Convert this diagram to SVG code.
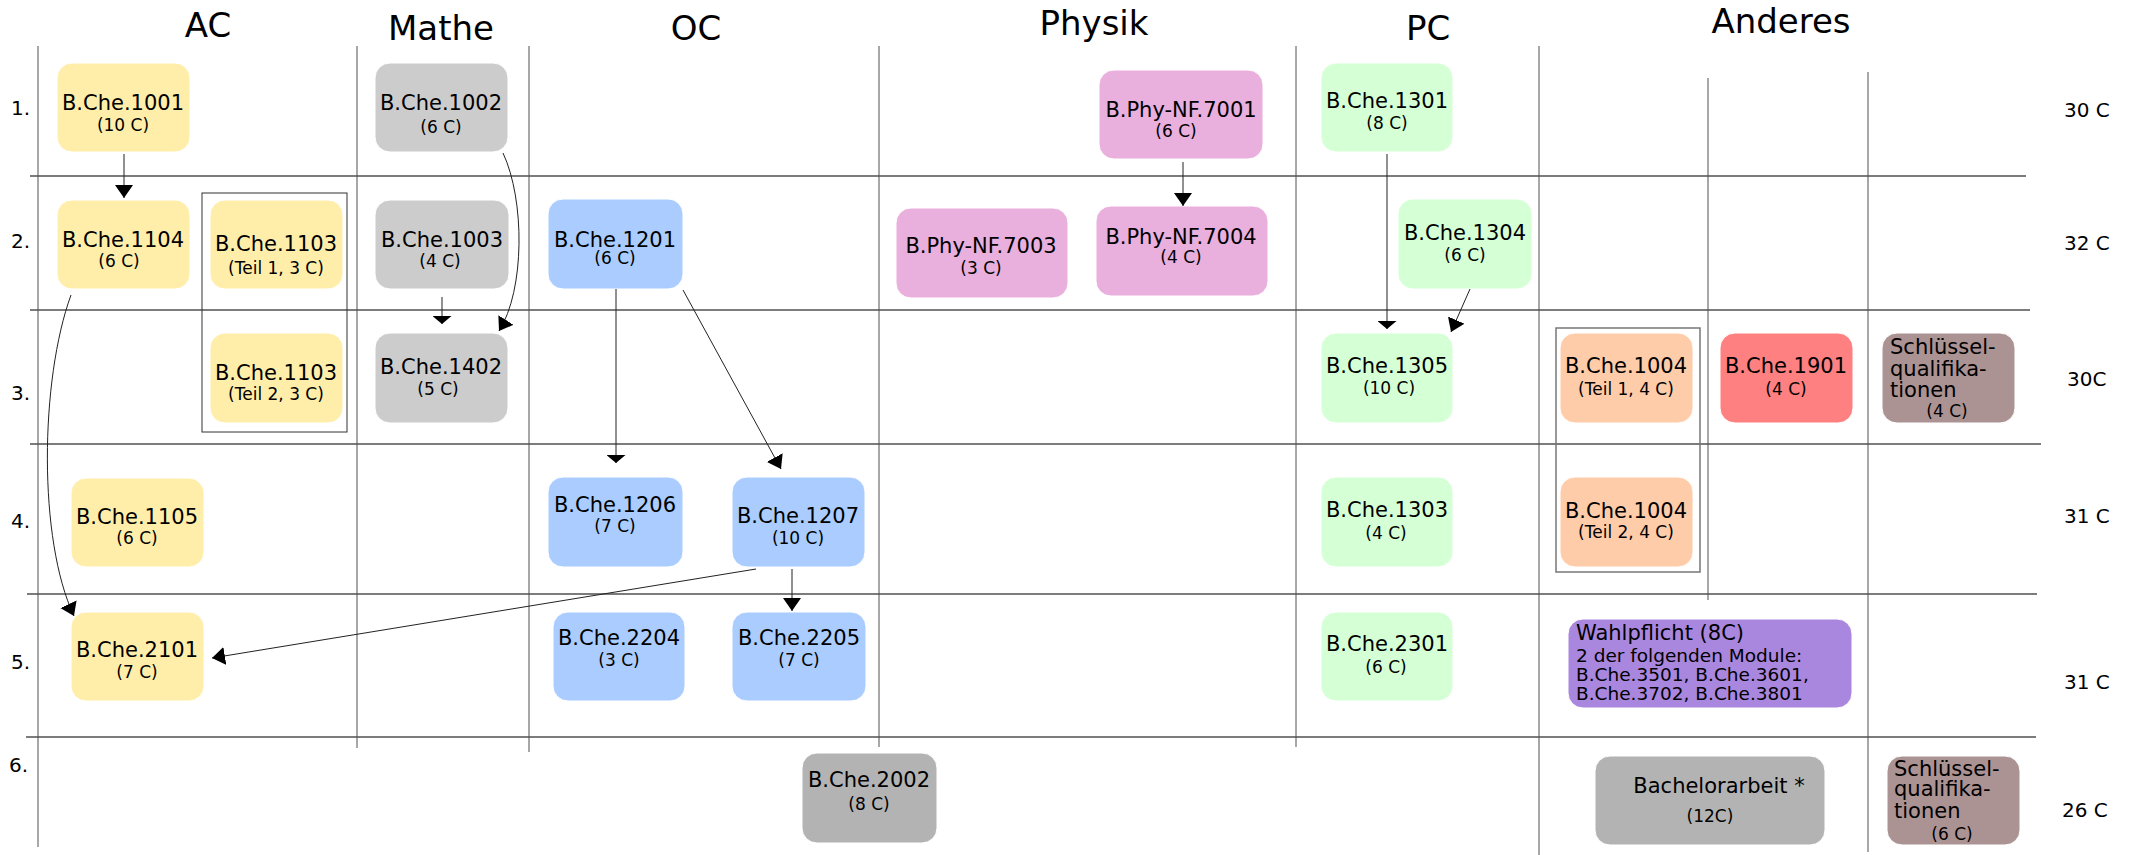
<svg xmlns="http://www.w3.org/2000/svg" width="2132" height="855" viewBox="0 0 2132 855">
<style>
text { font-family: "DejaVu Sans", "Liberation Sans", sans-serif; fill: #000; }
.h { font-size: 34px; text-anchor: middle; }
.n1 { font-size: 21px; text-anchor: middle; }
.n2 { font-size: 17px; text-anchor: middle; }
.lbl { font-size: 20px; }
.l21 { font-size: 21px; }
.l18 { font-size: 18.5px; }
.gh { stroke: #505050; stroke-width: 1.6; fill: none; }
.gv { stroke: #505050; stroke-width: 1; fill: none; }
.conn { fill: none; stroke: #222; stroke-width: 1; }
.box { stroke: #ffffff; stroke-width: 1; }
.ac { fill: #ffeeaa; }
.ma { fill: #cccccc; }
.oc { fill: #aaccff; }
.ph { fill: #e9afdd; }
.pc { fill: #d5ffd5; }
.pe { fill: #ffccaa; }
.rd { fill: #ff8080; }
.br { fill: #ac9393; }
.pu { fill: #aa87de; }
.g2 { fill: #b3b3b3; }
.grp { fill: none; stroke: #333; stroke-width: 1; }
.grp2 { fill: none; stroke: #777; stroke-width: 1.5; }
</style>
<defs>
<marker id="big" markerUnits="userSpaceOnUse" markerWidth="14" markerHeight="18" refX="13" refY="9" orient="auto">
<path d="M0,0 L13,9 L0,18 Z" fill="#000"/>
</marker>
<marker id="flat" markerUnits="userSpaceOnUse" markerWidth="9" markerHeight="19" refX="8" refY="9.5" orient="auto">
<path d="M0,0 L8,9.5 L0,19 Z" fill="#000"/>
</marker>
</defs>
<rect width="2132" height="855" fill="#ffffff"/>

<g id="grid">
<line class="gv" x1="38" y1="46" x2="38" y2="847"/>
<line class="gv" x1="357" y1="46" x2="357" y2="748"/>
<line class="gv" x1="529" y1="46" x2="529" y2="752"/>
<line class="gv" x1="879" y1="46" x2="879" y2="747"/>
<line class="gv" x1="1296" y1="46" x2="1296" y2="747"/>
<line class="gv" x1="1539" y1="46" x2="1539" y2="855"/>
<line class="gv" x1="1708" y1="78" x2="1708" y2="600"/>
<line class="gv" x1="1868" y1="72" x2="1868" y2="852"/>
<line class="gh" x1="30" y1="176" x2="2026" y2="176"/>
<line class="gh" x1="30" y1="310" x2="2030" y2="310"/>
<line class="gh" x1="30" y1="444" x2="2041" y2="444"/>
<line class="gh" x1="27" y1="594" x2="2037" y2="594"/>
<line class="gh" x1="26" y1="737" x2="2036" y2="737"/>
</g>

<g id="headers">
<text class="h" x="208" y="37">AC</text>
<text class="h" x="441" y="40">Mathe</text>
<text class="h" x="696" y="40">OC</text>
<text class="h" x="1094" y="35">Physik</text>
<text class="h" x="1428" y="40">PC</text>
<text class="h" x="1781" y="33">Anderes</text>
</g>

<g id="rows">
<text class="lbl" x="11" y="115">1.</text>
<text class="lbl" x="11" y="248">2.</text>
<text class="lbl" x="11" y="400">3.</text>
<text class="lbl" x="11" y="528">4.</text>
<text class="lbl" x="11" y="669">5.</text>
<text class="lbl" x="9" y="772">6.</text>
</g>

<g id="credits">
<text class="lbl" x="2064" y="117">30 C</text>
<text class="lbl" x="2064" y="250">32 C</text>
<text class="lbl" x="2067" y="386">30C</text>
<text class="lbl" x="2064" y="523">31 C</text>
<text class="lbl" x="2064" y="689">31 C</text>
<text class="lbl" x="2062" y="817">26 C</text>
</g>

<g id="group-1103"><rect class="grp" x="202" y="193" width="145" height="239"/></g>
<g id="group-1004"><rect class="grp2" x="1556" y="328" width="144" height="244"/></g>

<g id="n1001"><rect class="box ac" x="57" y="63" width="133" height="89" rx="15"/><text class="n1" x="123" y="110">B.Che.1001</text><text class="n2" x="123" y="131">(10 C)</text></g>
<g id="n1104"><rect class="box ac" x="57" y="200" width="133" height="89" rx="15"/><text class="n1" x="123" y="247">B.Che.1104</text><text class="n2" x="119" y="267">(6 C)</text></g>
<g id="n1103a"><rect class="box ac" x="210" y="200" width="133" height="89" rx="15"/><text class="n1" x="276" y="251">B.Che.1103</text><text class="n2" x="276" y="274">(Teil 1, 3 C)</text></g>
<g id="n1103b"><rect class="box ac" x="210" y="333" width="133" height="90" rx="15"/><text class="n1" x="276" y="380">B.Che.1103</text><text class="n2" x="276" y="400">(Teil 2, 3 C)</text></g>
<g id="n1105"><rect class="box ac" x="71" y="478" width="133" height="89" rx="15"/><text class="n1" x="137" y="524">B.Che.1105</text><text class="n2" x="137" y="544">(6 C)</text></g>
<g id="n2101"><rect class="box ac" x="71" y="612" width="133" height="89" rx="15"/><text class="n1" x="137" y="657">B.Che.2101</text><text class="n2" x="137" y="678">(7 C)</text></g>

<g id="n1002"><rect class="box ma" x="375" y="63" width="133" height="89" rx="15"/><text class="n1" x="441" y="110">B.Che.1002</text><text class="n2" x="441" y="133">(6 C)</text></g>
<g id="n1003"><rect class="box ma" x="375" y="200" width="134" height="89" rx="15"/><text class="n1" x="442" y="247">B.Che.1003</text><text class="n2" x="440" y="267">(4 C)</text></g>
<g id="n1402"><rect class="box ma" x="375" y="333" width="133" height="90" rx="15"/><text class="n1" x="441" y="374">B.Che.1402</text><text class="n2" x="438" y="395">(5 C)</text></g>

<g id="n1201"><rect class="box oc" x="548" y="199" width="135" height="90" rx="15"/><text class="n1" x="615" y="247">B.Che.1201</text><text class="n2" x="615" y="264">(6 C)</text></g>
<g id="n1206"><rect class="box oc" x="548" y="477" width="135" height="90" rx="15"/><text class="n1" x="615" y="512">B.Che.1206</text><text class="n2" x="615" y="532">(7 C)</text></g>
<g id="n1207"><rect class="box oc" x="732" y="477" width="133" height="90" rx="15"/><text class="n1" x="798" y="523">B.Che.1207</text><text class="n2" x="798" y="544">(10 C)</text></g>
<g id="n2204"><rect class="box oc" x="553" y="612" width="132" height="89" rx="15"/><text class="n1" x="619" y="645">B.Che.2204</text><text class="n2" x="619" y="666">(3 C)</text></g>
<g id="n2205"><rect class="box oc" x="732" y="612" width="134" height="89" rx="15"/><text class="n1" x="799" y="645">B.Che.2205</text><text class="n2" x="799" y="666">(7 C)</text></g>

<g id="n7001"><rect class="box ph" x="1099" y="70" width="164" height="89" rx="15"/><text class="n1" x="1181" y="117">B.Phy-NF.7001</text><text class="n2" x="1176" y="137">(6 C)</text></g>
<g id="n7003"><rect class="box ph" x="896" y="208" width="172" height="90" rx="15"/><text class="n1" x="981" y="253">B.Phy-NF.7003</text><text class="n2" x="981" y="274">(3 C)</text></g>
<g id="n7004"><rect class="box ph" x="1096" y="206" width="172" height="90" rx="15"/><text class="n1" x="1181" y="244">B.Phy-NF.7004</text><text class="n2" x="1181" y="263">(4 C)</text></g>

<g id="n1301"><rect class="box pc" x="1321" y="63" width="132" height="89" rx="15"/><text class="n1" x="1387" y="108">B.Che.1301</text><text class="n2" x="1387" y="129">(8 C)</text></g>
<g id="n1304"><rect class="box pc" x="1398" y="199" width="134" height="90" rx="15"/><text class="n1" x="1465" y="240">B.Che.1304</text><text class="n2" x="1465" y="261">(6 C)</text></g>
<g id="n1305"><rect class="box pc" x="1321" y="333" width="132" height="90" rx="15"/><text class="n1" x="1387" y="373">B.Che.1305</text><text class="n2" x="1389" y="394">(10 C)</text></g>
<g id="n1303"><rect class="box pc" x="1321" y="477" width="132" height="90" rx="15"/><text class="n1" x="1387" y="517">B.Che.1303</text><text class="n2" x="1386" y="539">(4 C)</text></g>
<g id="n2301"><rect class="box pc" x="1321" y="612" width="132" height="89" rx="15"/><text class="n1" x="1387" y="651">B.Che.2301</text><text class="n2" x="1386" y="673">(6 C)</text></g>

<g id="n1004a"><rect class="box pe" x="1560" y="333" width="133" height="90" rx="15"/><text class="n1" x="1626" y="373">B.Che.1004</text><text class="n2" x="1626" y="395">(Teil 1, 4 C)</text></g>
<g id="n1004b"><rect class="box pe" x="1560" y="477" width="133" height="90" rx="15"/><text class="n1" x="1626" y="518">B.Che.1004</text><text class="n2" x="1626" y="538">(Teil 2, 4 C)</text></g>
<g id="n1901"><rect class="box rd" x="1720" y="333" width="133" height="90" rx="15"/><text class="n1" x="1786" y="373">B.Che.1901</text><text class="n2" x="1786" y="395">(4 C)</text></g>
<g id="nSQ4"><rect class="box br" x="1882" y="333" width="133" height="90" rx="15"/><text class="l21" x="1890" y="354">Schlüssel-</text><text class="l21" x="1890" y="376">qualifika-</text><text class="l21" x="1890" y="397">tionen</text><text class="n2" x="1947" y="417">(4 C)</text></g>
<g id="nWahl"><rect class="box pu" x="1568" y="619" width="284" height="89" rx="15"/><text class="l21" x="1576" y="640">Wahlpflicht (8C)</text><text class="l18" x="1576" y="662">2 der folgenden Module:</text><text class="l18" x="1576" y="681">B.Che.3501, B.Che.3601,</text><text class="l18" x="1576" y="700">B.Che.3702, B.Che.3801</text></g>

<g id="n2002"><rect class="box g2" x="802" y="753" width="135" height="90" rx="15"/><text class="n1" x="869" y="787">B.Che.2002</text><text class="n2" x="869" y="810">(8 C)</text></g>
<g id="nBA"><rect class="box g2" x="1595" y="756" width="230" height="89" rx="15"/><text class="n1" x="1719" y="793">Bachelorarbeit *</text><text class="n2" x="1710" y="822">(12C)</text></g>
<g id="nSQ6"><rect class="box br" x="1887" y="756" width="133" height="89" rx="15"/><text class="l21" x="1894" y="776">Schlüssel-</text><text class="l21" x="1894" y="796">qualifika-</text><text class="l21" x="1894" y="818">tionen</text><text class="n2" x="1952" y="840">(6 C)</text></g>

<g id="connectors">
<line class="conn" x1="124" y1="154" x2="124" y2="198" marker-end="url(#big)"/>
<path class="conn" d="M503,153 C525,200 525,290 499,331" marker-end="url(#big)"/>
<line class="conn" x1="442" y1="297" x2="442" y2="324" marker-end="url(#flat)"/>
<path class="conn" d="M71,295 C40,380 38,540 74,616" marker-end="url(#big)"/>
<line class="conn" x1="616" y1="289" x2="616" y2="463" marker-end="url(#flat)"/>
<line class="conn" x1="683" y1="290" x2="781" y2="469" marker-end="url(#big)"/>
<line class="conn" x1="792" y1="569" x2="792" y2="611" marker-end="url(#big)"/>
<line class="conn" x1="756" y1="569" x2="212" y2="658" marker-end="url(#big)"/>
<line class="conn" x1="1183" y1="162" x2="1183" y2="206" marker-end="url(#big)"/>
<line class="conn" x1="1387" y1="154" x2="1387" y2="329" marker-end="url(#flat)"/>
<line class="conn" x1="1470" y1="289" x2="1451" y2="332" marker-end="url(#big)"/>
</g>
</svg>
